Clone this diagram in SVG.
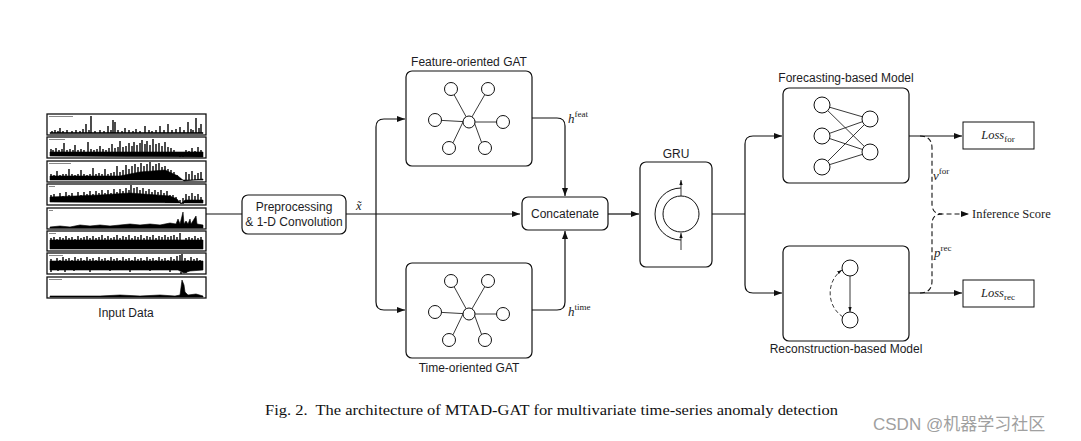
<svg xmlns="http://www.w3.org/2000/svg" width="1081" height="441" viewBox="0 0 1081 441">
<style>
.box{fill:#fff;stroke:#111;stroke-width:1.2}
.ln{fill:none;stroke:#111;stroke-width:1.2}
.dash{fill:none;stroke:#111;stroke-width:1.1;stroke-dasharray:5,3}
.lbl{font-family:"Liberation Sans",Arial,sans-serif;font-size:12px;fill:#1c1c24}
.mth{font-family:"Liberation Serif","Times New Roman",serif;fill:#222}
.nd{fill:#fff;stroke:#111;stroke-width:1}
.ed{stroke:#222;stroke-width:0.9;fill:none}
.pl{fill:#fff;stroke:#111;stroke-width:1.3}
.ts{fill:#000;stroke:#000;stroke-width:0.6}
.sp{fill:none;stroke:#000;stroke-width:1.4}
</style>
<defs>
<marker id="ar" viewBox="0 0 8 6" refX="8" refY="3" markerWidth="8" markerHeight="6" markerUnits="userSpaceOnUse" orient="auto">
<path d="M0,0 L8,3 L0,6 Z" fill="#111"/>
</marker>
<marker id="as" viewBox="0 0 6 4" refX="6" refY="2" markerWidth="5" markerHeight="4" markerUnits="userSpaceOnUse" orient="auto">
<path d="M0,0 L6,2 L0,4 Z" fill="#111"/>
</marker>
</defs>
<rect width="1081" height="441" fill="#fff"/>

<g id="input-data">
<rect class="pl" x="47" y="114" width="159" height="21"/>
<rect class="pl" x="47" y="137" width="159" height="21"/>
<rect class="pl" x="47" y="161" width="159" height="21"/>
<rect class="pl" x="47" y="184" width="159" height="21"/>
<rect class="pl" x="47" y="208" width="159" height="21"/>
<rect class="pl" x="47" y="231" width="159" height="20"/>
<rect class="pl" x="47" y="253" width="159" height="21"/>
<rect class="pl" x="47" y="277" width="159" height="21"/>
<path d="M49,116.5h24M49,139.5h16M49,163.5h22M49,186.5h6M49,210.5h4M49,233.5h7M49,255.5h14M49,279.5h13" stroke="#888" stroke-width="1"/>
<path class="ts" d="M50,132.5 L203,132.5 L203,133.5 L50,133.5 Z"/>
<path class="sp" d="M52,133V131M55,133V130M58,133V131M60,133V128M63,133V131M67,133V130M72,133V131M76,133V130M80,133V131M83,133V129M86,133V124M89,133V130M91,133V116M95,133V131M100,133V130M104,133V131M108,133V126M111,133V130M113,133V120M115,133V122M118,133V130M122,133V131M125,133V128M129,133V130M133,133V131M136,133V129M140,133V131M145,133V126M149,133V130M152,133V131M156,133V130M160,133V126M164,133V130M168,133V124M172,133V130M176,133V129M180,133V127M184,133V130M188,133V122M191,133V129M193,133V130M196,133V118M199,133V128M201,133V124"/>
<path class="ts" d="M50,156 L50,152 L203,152 L203,157 Z"/>
<path class="sp" d="M51,152V149M53,152V150M56,152V148M59,152V150M62,152V149M64,152V143M67,152V150M70,152V149M73,152V150M75,152V145M78,152V150M81,152V149M84,152V150M88,152V142M91,152V149M94,152V150M97,152V149M100,152V146M103,152V149M106,152V150M109,152V148M112,152V144M115,152V148M118,152V147M120,152V141M123,152V147M126,152V146M129,152V143M132,152V146M134,152V142M137,152V145M140,152V143M142,152V140M145,152V144M147,152V141M150,152V145M153,152V139M156,152V144M159,152V143M162,152V146M165,152V142M168,152V147M171,152V148M174,152V150M177,156V153M180,157V155M183,157V156M186,156V150M189,156V151M192,156V148M195,156V151M198,156V147M201,156V150"/>
<path class="ts" d="M50,180 L50,176 L120,176 L140,172 L165,170 L178,176 L184,181 L203,179 L203,180 Z"/>
<path class="sp" d="M51,176V174M54,176V175M57,176V171M60,176V175M63,176V174M66,176V174M69,176V169M72,176V174M75,176V175M78,176V174M81,176V170M84,176V174M87,176V175M90,176V174M93,176V168M96,176V174M99,176V173M102,176V174M105,176V169M108,176V174M111,176V173M114,176V172M117,176V166M120,176V172M123,176V170M126,176V165M129,176V169M132,175V166M135,174V164M138,174V167M141,173V163M144,173V166M147,172V164M150,172V162M153,172V166M156,172V164M159,172V163M162,172V167M165,172V166M168,173V169M171,174V170M174,176V172M177,178V175M180,180V178M186,180V172M189,180V174M192,180V171M195,180V175M198,180V173M201,180V172"/>
<path class="ts" d="M50,202 L50,197 L100,195 L130,193 L170,196 L177,199 L181,204 L185,200 L203,200 L203,203 Z"/>
<path class="sp" d="M51,197V195M54,197V194M57,197V197M60,197V193M63,197V196M66,197V192M69,197V195M72,197V193M75,197V196M78,197V192M81,197V195M84,197V192M87,197V194M90,197V191M93,196V194M96,196V191M99,196V193M102,195V190M105,195V193M108,195V190M111,195V193M114,195V189M117,195V192M120,195V189M123,195V191M126,194V188M129,194V190M131,194V185M134,194V188M137,194V187M140,194V190M143,195V188M146,195V191M149,195V189M152,195V192M155,195V190M158,195V192M161,196V190M164,196V193M167,196V191M170,197V195M173,198V195M176,199V197M180,203V200M183,204V198M186,200V194M189,200V196M192,200V193M195,200V196M198,200V194M201,200V197"/>
<path class="ts" d="M50,227 L60,226 L70,227 L80,225 L90,226 L100,225 L110,226 L120,225 L130,224 L140,225 L150,224 L160,225 L170,223 L176,224 L178,219 L180,224 L183,212 L184,224 L186,221 L188,224 L190,219 L191,224 L196,216 L197,224 L203,225 L203,228 L50,228 Z"/>
<path class="ts" d="M50,249 L50,240 L203,240 L203,249 Z"/>
<path class="sp" d="M51,240V238M54,240V237M57,240V239M60,240V237M63,240V238M66,240V236M69,240V238M72,240V237M75,240V239M78,240V236M81,240V238M84,240V237M87,240V236M90,240V238M93,240V236M96,240V238M99,240V237M102,240V235M105,240V238M108,240V236M111,240V238M114,240V237M117,240V235M120,240V238M123,240V236M126,240V237M129,240V235M132,240V238M135,240V236M138,240V237M141,240V235M144,240V238M147,240V236M150,240V237M153,240V235M156,240V238M159,240V236M162,240V237M165,240V235M168,240V237M171,240V236M174,240V235M177,240V237M180,240V233M183,242V244M186,240V238M189,240V237M192,240V238M195,240V236M198,240V238M201,240V237"/>
<path class="ts" d="M50,270 L50,261 L203,261 L203,270 L190,271 L184,273 L178,270 Z"/>
<path class="sp" d="M51,261V259M54,261V262M57,261V258M60,261V260M63,261V257M66,261V259M69,261V258M72,261V260M75,261V257M78,261V259M81,261V258M84,261V260M87,261V257M90,261V259M93,261V258M96,261V260M99,261V257M102,261V259M105,261V258M108,261V260M111,261V257M114,261V259M117,261V258M120,261V260M123,261V257M126,261V259M129,261V258M132,261V260M135,261V257M138,261V259M141,261V258M144,261V260M147,261V257M150,261V259M153,261V258M156,261V260M159,261V257M162,261V259M165,261V258M168,261V260M171,261V257M174,261V259M177,261V256M180,261V255M182,261V254M185,261V258M188,261V260M191,261V257M194,261V259M197,261V258M200,261V260M51,270V272M58,270V271M65,270V272M74,270V271M90,270V272M110,270V271M130,270V272M150,270V271M170,270V272M181,272V274M186,272V273"/>
<path class="ts" d="M50,296 L100,296 L120,295 L140,296 L160,295 L175,296 L180,295 L182,280 L184,285 L185,292 L188,295 L196,294 L203,296 L203,297 L50,297 Z"/>
<text class="lbl" x="126" y="317" text-anchor="middle">Input Data</text>
</g>

<g id="preprocessing">
<rect class="box" x="242" y="195" width="104" height="39" rx="6"/>
<text class="lbl" x="294" y="211" text-anchor="middle" font-size="10.5">Preprocessing</text>
<text class="lbl" x="294" y="226" text-anchor="middle" font-size="10.5">&amp; 1-D Convolution</text>
</g>

<g id="feature-gat">
<text class="lbl" x="469" y="66" text-anchor="middle">Feature-oriented GAT</text>
<rect class="box" x="406" y="71" width="126" height="95" rx="6"/>
<g class="gat">
<path class="ed" marker-end="url(#as)" d="M454.1,94.7L466.1,116.7M484.8,94.6L472,116.8M441.5,120.4L463,121.6M496.5,122L475,122M453,142.8L465.3,117.2M481.6,142.5L472.2,116.9"/>
<circle class="nd" cx="469" cy="122" r="6"/>
<circle class="nd" cx="451" cy="89" r="6.5"/>
<circle class="nd" cx="488" cy="89" r="6.5"/>
<circle class="nd" cx="435" cy="120" r="6.5"/>
<circle class="nd" cx="503" cy="122" r="6.5"/>
<circle class="nd" cx="449" cy="148" r="6.5"/>
<circle class="nd" cx="485" cy="148" r="6.5"/>
</g>
</g>

<g id="time-gat">
<rect class="box" x="406" y="263" width="126" height="95" rx="6"/>
<g transform="translate(0,192)">
<path class="ed" marker-end="url(#as)" d="M454.1,94.7L466.1,116.7M484.8,94.6L472,116.8M441.5,120.4L463,121.6M496.5,122L475,122M453,142.8L465.3,117.2M481.6,142.5L472.2,116.9"/>
<circle class="nd" cx="469" cy="122" r="6"/>
<circle class="nd" cx="451" cy="89" r="6.5"/>
<circle class="nd" cx="488" cy="89" r="6.5"/>
<circle class="nd" cx="435" cy="120" r="6.5"/>
<circle class="nd" cx="503" cy="122" r="6.5"/>
<circle class="nd" cx="449" cy="148" r="6.5"/>
<circle class="nd" cx="485" cy="148" r="6.5"/>
</g>
<text class="lbl" x="469" y="372" text-anchor="middle">Time-oriented GAT</text>
</g>

<g id="concatenate">
<rect class="box" x="522" y="197" width="86" height="33" rx="6"/>
<text class="lbl" x="565" y="218" text-anchor="middle">Concatenate</text>
</g>

<g id="gru">
<text class="lbl" x="676" y="158" text-anchor="middle">GRU</text>
<rect class="box" x="640" y="162" width="72" height="105" rx="6"/>
<circle cx="681" cy="214" r="18" fill="none" stroke="#111" stroke-width="1"/>
<path d="M681,188 A26,26 0 0 0 681,240" fill="none" stroke="#111" stroke-width="1"/>
<path d="M681,196 V180" class="ed" marker-end="url(#as)"/>
<path d="M681,250 V233" class="ed" marker-end="url(#as)"/>
</g>

<g id="forecasting-model">
<text class="lbl" x="846" y="82" text-anchor="middle">Forecasting-based Model</text>
<rect class="box" x="783" y="88" width="126" height="95" rx="6"/>
<path class="ed" d="M822,105L870,119M822,105L870,152M822,136L870,119M822,136L870,152M822,167L870,119M822,167L870,152"/>
<circle class="nd" cx="822" cy="105" r="8"/>
<circle class="nd" cx="822" cy="136" r="8"/>
<circle class="nd" cx="822" cy="167" r="8"/>
<circle class="nd" cx="870" cy="119" r="8"/>
<circle class="nd" cx="870" cy="152" r="8"/>
</g>

<g id="reconstruction-model">
<rect class="box" x="783" y="246" width="126" height="95" rx="6"/>
<path class="ed" marker-end="url(#as)" d="M850,276 V312"/>
<path d="M843,317 C826,306 826,281 842,270" fill="none" stroke="#222" stroke-width="0.9" stroke-dasharray="4,2.5" marker-end="url(#as)"/>
<circle class="nd" cx="850" cy="268" r="8"/>
<circle class="nd" cx="850" cy="320" r="8"/>
<text class="lbl" x="846" y="353" text-anchor="middle">Reconstruction-based Model</text>
</g>

<g id="loss-for">
<rect x="963" y="122" width="71" height="27" fill="#fff" stroke="#111" stroke-width="1"/>
<text class="mth" x="998" y="139" text-anchor="middle" font-size="12.5"><tspan font-style="italic">Loss</tspan><tspan font-size="9" dy="3">for</tspan></text>
</g>

<g id="loss-rec">
<rect x="963" y="280" width="71" height="27" fill="#fff" stroke="#111" stroke-width="1"/>
<text class="mth" x="998" y="297" text-anchor="middle" font-size="12.5"><tspan font-style="italic">Loss</tspan><tspan font-size="9" dy="3">rec</tspan></text>
</g>

<g id="inference-score">
<text class="mth" x="972" y="218" font-size="12.5">Inference Score</text>
</g>

<g id="connectors">
<path class="ln" d="M206,214 H242"/>
<path class="ln" d="M346,214 H520" marker-end="url(#ar)"/>
<path class="ln" d="M376,214 V127 Q376,119 384,119 H405" marker-end="url(#ar)"/>
<path class="ln" d="M376,214 V302 Q376,310 384,310 H405" marker-end="url(#ar)"/>
<path class="ln" d="M532,118 H557 Q565,118 565,126 V196" marker-end="url(#ar)"/>
<path class="ln" d="M532,310 H557 Q565,310 565,302 V231" marker-end="url(#ar)"/>
<path class="ln" d="M608,214 H639" marker-end="url(#ar)"/>
<path class="ln" d="M712,214 H745"/>
<path class="ln" d="M745,214 V144 Q745,136 753,136 H782" marker-end="url(#ar)"/>
<path class="ln" d="M745,214 V285 Q745,293 753,293 H782" marker-end="url(#ar)"/>
<path class="ln" d="M909,136 H962" marker-end="url(#ar)"/>
<path class="ln" d="M909,293 H962" marker-end="url(#ar)"/>
<path class="dash" d="M920,136 Q932,136 932,148 V204 Q932,214 942,214 H969" marker-end="url(#ar)"/>
<path class="dash" d="M920,293 Q932,293 932,281 V224 Q932,214 942,214"/>
<text class="mth" x="356" y="210" font-size="12.5" font-style="italic">x&#x303;</text>
<text class="mth" x="568" y="123" font-size="13"><tspan font-style="italic">h</tspan><tspan font-size="9" dy="-6">feat</tspan></text>
<text class="mth" x="568" y="316" font-size="13"><tspan font-style="italic">h</tspan><tspan font-size="9" dy="-6">time</tspan></text>
<text class="mth" x="933" y="180" font-size="13"><tspan font-style="italic">v</tspan><tspan font-size="9" dy="-6">for</tspan></text>
<text class="mth" x="934" y="257" font-size="13"><tspan font-style="italic">p</tspan><tspan font-size="9" dy="-6">rec</tspan></text>
</g>

<text x="265" y="415" font-family="Liberation Serif,'Times New Roman',serif" font-size="15" fill="#111" textLength="573" lengthAdjust="spacingAndGlyphs" xml:space="preserve">Fig. 2.  The architecture of MTAD-GAT for multivariate time-series anomaly detection</text>
<text x="873" y="430" font-family="'Liberation Sans','Noto Sans CJK SC',sans-serif" font-size="17" fill="#a0a0a0">CSDN @机器学习社区</text>
</svg>
